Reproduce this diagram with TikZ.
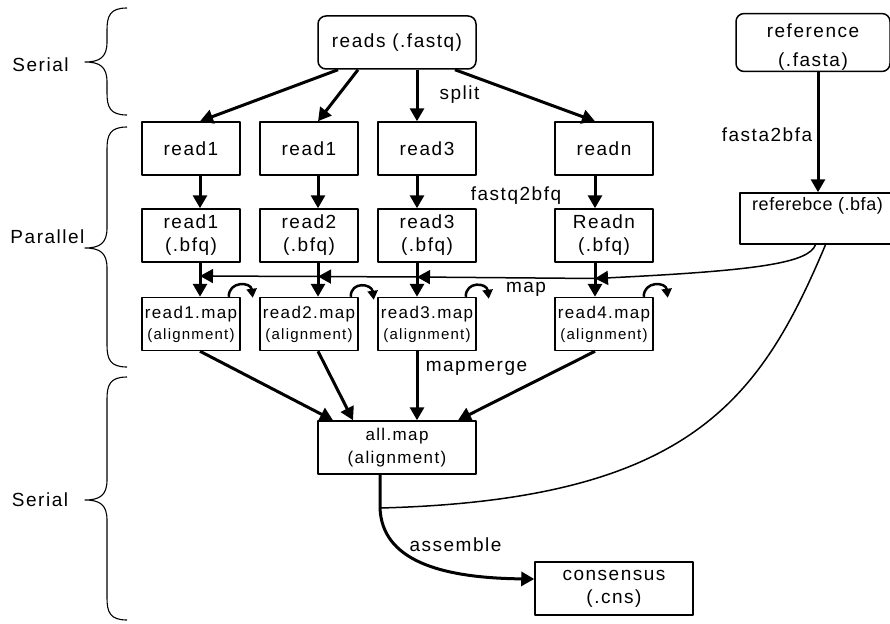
\documentclass[tikz,border=0pt]{standalone}
\usepackage{fontspec}
\setmainfont{Liberation Sans}[LetterSpace=8]
\usetikzlibrary{arrows.meta}
\newcommand{\alnline}{{\fontsize{15}{21}\selectfont(alignment)}}
\tikzset{
  box/.style={draw,line width=1.5pt,minimum width=98pt,minimum height=53pt,inner sep=1pt,align=center},
  wide/.style={box,minimum width=158pt},
  file/.style={wide,rounded corners=8pt},
  mapbox/.style={box,font=\fontsize{17}{21}\selectfont},
  flow/.style={->,line width=3pt},
  link/.style={line width=1.5pt},
  selfloop/.style={line width=2.5pt,-{Triangle[length=9pt,width=10pt]}},
  brace/.style={line width=1.1pt},
}
\begin{document}
\begin{tikzpicture}[x=1pt,y=-1pt,line join=round,>={Triangle[length=13pt,width=14pt]},font=\fontsize{19}{23}\selectfont]
\useasboundingbox (0,0) rectangle (890,623);
% input files
\node[file] (reads) at (397,42.5) {reads (.fastq)};
\node[file,minimum width=154pt] (ref) at (813,42.5) {\rule{0pt}{23pt}reference\\[6pt](.fasta)};
% split reads
\node[box] (s1) at (191,148.5) {read1};
\node[box] (s2) at (309,148.5) {read1};
\node[box] (s3) at (427,148.5) {read3};
\node[box] (s4) at (604,148.5) {readn};
% binary reads
\node[box] (b1) at (191,235.5) {read1\\(.bfq)};
\node[box] (b2) at (309,235.5) {read2\\(.bfq)};
\node[box] (b3) at (427,235.5) {read3\\(.bfq)};
\node[box] (b4) at (604,235.5) {Readn\\(.bfq)};
\node[box,minimum width=155pt,minimum height=51pt,font=\fontsize{18}{23}\selectfont\addfontfeature{LetterSpace=3}] (bfa) at (817.5,218.5) {referebce (.bfa)\\ \strut};
% alignments
\node[mapbox] (m1) at (191,324) {read1.map\\\alnline};
\node[mapbox] (m2) at (309,324) {read2.map\\\alnline};
\node[mapbox] (m3) at (427,324) {read3.map\\\alnline};
\node[mapbox] (m4) at (604,324) {read4.map\\\alnline};
\node[wide,font=\fontsize{17}{23}\selectfont] (all) at (397,447.5) {all.map\\(alignment)};
\node[wide] (cons) at (614,588.5) {consensus\\(.cns)};
% step labels
\node (lsplit) at (459.5,95) {split};
\node (lconv) at (516,196) {fastq2bfq};
\node (lmap) at (526,289) {map};
\node (lmerge) at (476.5,368) {mapmerge};
\node (lasm) at (455.5,545) {assemble};
\node (lref) at (767,135) {fasta2bfa};
% phases
\node (serial1) at (40.5,65) {Serial};
\node (parallel) at (47.5,237) {Parallel};
\node (serial2) at (40,500) {Serial};
\draw[brace] (127,8) .. controls (110,8) and (107,16) .. (107,30) -- (107,42)
  .. controls (107,57) and (100,62) .. (85,62) .. controls (100,62) and (107,67) .. (107,82)
  -- (107,93) .. controls (107,107) and (110,115) .. (127,115);
\draw[brace] (127,127) .. controls (110,127) and (107,135) .. (107,149) -- (107,228)
  .. controls (107,243) and (100,248) .. (85,248) .. controls (100,248) and (107,253) .. (107,268)
  -- (107,345) .. controls (107,359) and (110,367) .. (127,367);
\draw[brace] (127,377) .. controls (110,377) and (107,385) .. (107,399) -- (107,480)
  .. controls (107,495) and (100,500) .. (85,500) .. controls (100,500) and (107,505) .. (107,520)
  -- (107,598) .. controls (107,612) and (110,620) .. (127,620);
% split
\draw[flow] ([xshift=-59pt]reads.south) -- ([xshift=9pt]s1.north);
\draw[flow] ([xshift=-39pt]reads.south) -- ([xshift=9pt]s2.north);
\draw[flow] ([xshift=20pt]reads.south) -- ([xshift=-10pt]s3.north);
\draw[flow] ([xshift=58pt]reads.south) -- ([xshift=-9pt]s4.north);
% fastq2bfq
\draw[flow] ([xshift=9pt]s1.south) -- ([xshift=9pt]b1.north);
\draw[flow] ([xshift=9pt]s2.south) -- ([xshift=9pt]b2.north);
\draw[flow] ([xshift=-10pt]s3.south) -- ([xshift=-10pt]b3.north);
\draw[flow] ([xshift=-9pt]s4.south) -- ([xshift=-9pt]b4.north);
\draw[flow] ([xshift=5pt]ref.south) -- ([xshift=0.5pt]bfa.north);
% map
\draw[flow] ([xshift=9pt]b1.south) -- ([xshift=9pt]m1.north);
\draw[flow] ([xshift=9pt]b2.south) -- ([xshift=9pt]m2.north);
\draw[flow] ([xshift=-10pt]b3.south) -- ([xshift=-10pt]m3.north);
\draw[flow] ([xshift=-9pt]b4.south) -- ([xshift=-9pt]m4.north);
\coordinate (j1) at (200,276);
\coordinate (j2) at (318,276.5);
\coordinate (j3) at (417,277);
\coordinate (j4) at (595,278.5);
\draw[link,->] ([xshift=-2pt]bfa.south) .. controls +(-7,18) and +(165,-8) .. (j4);
\draw[link,->] (j4) -- (j3);
\draw[link,->] (j3) -- (j2);
\draw[link,->] (j2) -- (j1);
\draw[selfloop] ([xshift=-12pt]m1.north east) .. controls +(0,-16) and +(-2,-16) .. ([xshift=12pt,yshift=-1pt]m1.north east);
\draw[selfloop] ([xshift=-8pt]m2.north east) .. controls +(0,-16) and +(-2,-16) .. ([xshift=15pt,yshift=-3pt]m2.north east);
\draw[selfloop] ([xshift=-11pt]m3.north east) .. controls +(0,-16) and +(-2,-16) .. ([xshift=12pt,yshift=-2pt]m3.north east);
\draw[selfloop] ([xshift=-10pt]m4.north east) .. controls +(0,-16) and +(-2,-16) .. ([xshift=14pt,yshift=-1pt]m4.north east);
% mapmerge
\draw[flow] ([xshift=9pt]m1.south) -- ([xshift=-64pt]all.north);
\draw[flow] ([xshift=9pt]m2.south) -- ([xshift=-44pt]all.north);
\draw[flow] ([xshift=-10pt]m3.south) -- ([xshift=20pt]all.north);
\draw[flow] ([xshift=-9pt]m4.south) -- ([xshift=61pt]all.north);
% assemble
\coordinate (asm) at (380,508);
\draw[link] ([xshift=8pt]bfa.south) .. controls (760,400) and (690,500) .. (asm);
\draw[flow] ([xshift=-17pt]all.south) -- (asm) .. controls +(2,52) and +(-95,-1) .. ([yshift=9.5pt]cons.west);
\end{tikzpicture}
\end{document}
